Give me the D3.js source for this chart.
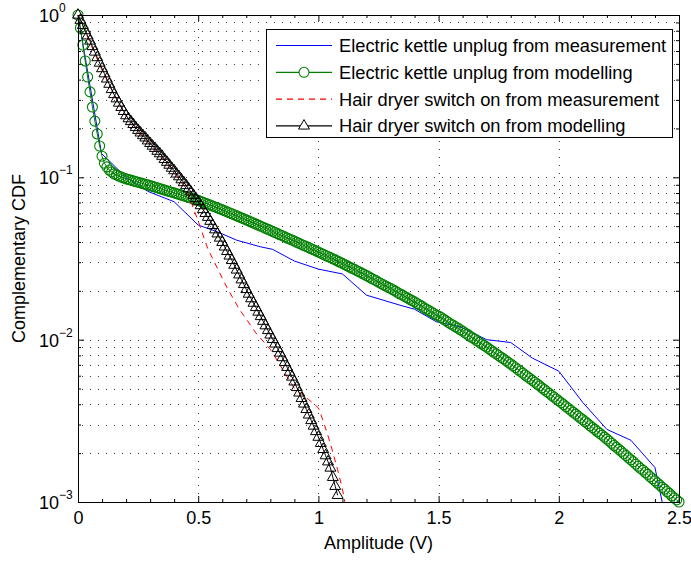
<!DOCTYPE html>
<html><head><meta charset="utf-8">
<script src="https://cdn.jsdelivr.net/npm/d3@7/dist/d3.min.js"></script>
<style>
body{margin:0;background:#fff}
text{font-family:"Liberation Sans",Arial,Helvetica,sans-serif;fill:#000}
</style>
</head><body>
<svg id="chart" width="691" height="561"></svg>
<script>
// ---------------- data ----------------
const kettleMeasX = [0, 0.098, 0.133, 0.2, 0.29, 0.40, 0.50, 0.58, 0.66, 0.76, 0.81, 0.90, 1.0, 1.10, 1.20, 1.34, 1.40, 1.49, 1.59, 1.70, 1.80, 1.89, 2.0, 2.10, 2.20, 2.30, 2.40, 2.43];
const kettleMeasY = [1, 0.14, 0.125, 0.1, 0.082, 0.0707, 0.0508, 0.0462, 0.041, 0.0373, 0.036, 0.0305, 0.0272, 0.0254, 0.0188, 0.0163, 0.0154, 0.0129, 0.012, 0.0100, 0.0096, 0.0077, 0.0064, 0.0041, 0.0028, 0.0024, 0.00163, 0.001];

const modelStep = 0.01; // amplitude spacing of the modelled curves
const kettleModelY = [
 1, 0.832, 0.653, 0.521, 0.415, 0.336, 0.271, 0.222, 0.185, 0.156, 0.135, 0.122, 0.116, 0.111, 0.108, 0.105, 0.1035, 0.1019, 0.1005, 0.0991, 0.0979,
 0.0970, 0.0961, 0.0951, 0.0942, 0.0933, 0.0924, 0.0915, 0.0907, 0.0898, 0.0889,
 0.0880, 0.0871, 0.0862, 0.0853, 0.0844, 0.0835, 0.0827, 0.0818, 0.0810, 0.0802,
 0.0793, 0.0785, 0.0777, 0.0768, 0.0760, 0.0752, 0.0744, 0.0737, 0.0729, 0.0721,
 0.0712, 0.0702, 0.0693, 0.0684, 0.0675, 0.0666, 0.0657, 0.0648, 0.0640, 0.0631,
 0.0622, 0.0613, 0.0605, 0.0596, 0.0588, 0.0579, 0.0571, 0.0563, 0.0555, 0.0547,
 0.0539, 0.0531, 0.0523, 0.0515, 0.0508, 0.0500, 0.0493, 0.0485, 0.0478, 0.0471,
 0.0464, 0.0457, 0.0450, 0.0443, 0.0437, 0.0430, 0.0423, 0.0417, 0.0411, 0.0405,
 0.0398, 0.0392, 0.0386, 0.0380, 0.0375, 0.0369, 0.0363, 0.0358, 0.0352, 0.0347,
 0.0341, 0.0336, 0.0330, 0.0325, 0.0320, 0.0315, 0.0310, 0.0305, 0.0300, 0.0295,
 0.0290, 0.0285, 0.0280, 0.0275, 0.0271, 0.0266, 0.0262, 0.0257, 0.0253, 0.0248,
 0.0244, 0.0239, 0.0235, 0.0231, 0.0226, 0.0222, 0.0218, 0.0214, 0.0210, 0.0207,
 0.0203, 0.0199, 0.0195, 0.0191, 0.0188, 0.0184, 0.0181, 0.0177, 0.0174, 0.0171,
 0.0167, 0.0164, 0.0161, 0.0157, 0.0154, 0.0151, 0.0148, 0.0145, 0.0142, 0.0140,
 0.0137, 0.0134, 0.0131, 0.0128, 0.0125, 0.0123, 0.0120, 0.0118, 0.0115, 0.0113,
 0.0110, 0.0108, 0.0105, 0.0103, 0.0101, 0.00984, 0.00962, 0.00941, 0.00920, 0.00899,
 0.00878, 0.00857, 0.00837, 0.00817, 0.00798, 0.00779, 0.00761, 0.00743, 0.00725, 0.00708,
 0.00690, 0.00672, 0.00655, 0.00639, 0.00622, 0.00606, 0.00591, 0.00576, 0.00561, 0.00547,
 0.00533, 0.00519, 0.00505, 0.00492, 0.00479, 0.00467, 0.00454, 0.00443, 0.00431, 0.00420,
 0.00409, 0.00398, 0.00387, 0.00377, 0.00367, 0.00357, 0.00348, 0.00338, 0.00329, 0.00321,
 0.00312, 0.00304, 0.00295, 0.00287, 0.00280, 0.00272, 0.00265, 0.00258, 0.00251, 0.00244,
 0.00237, 0.00230, 0.00223, 0.00217, 0.00211, 0.00205, 0.00199, 0.00193, 0.00187, 0.00182,
 0.00177, 0.00171, 0.00166, 0.00161, 0.00157, 0.00152, 0.00148, 0.00143, 0.00139, 0.00135,
 0.00131, 0.00127, 0.00123, 0.00120, 0.00116, 0.00113, 0.00109, 0.00106, 0.00103, 0.00100
];

const dryerMeasX = [0, 0.05, 0.10, 0.15, 0.20, 0.25, 0.30, 0.35, 0.40, 0.45, 0.50, 0.54, 0.58, 0.62, 0.67, 0.74, 0.80, 0.85, 0.90, 0.96, 1.00, 1.02, 1.05, 1.08, 1.10, 1.11];
const dryerMeasY = [1, 0.676, 0.457, 0.324, 0.240, 0.191, 0.158, 0.132, 0.107, 0.0851, 0.0537, 0.0363, 0.0275, 0.0209, 0.0155, 0.0110, 0.00871, 0.00661, 0.00501, 0.00427, 0.00380, 0.00316, 0.00229, 0.00158, 0.00120, 0.00100];

const dryerModelY = [
 1, 0.929, 0.863, 0.802, 0.745, 0.692, 0.640, 0.592, 0.547, 0.506, 0.468,
 0.435, 0.404, 0.375, 0.348, 0.324, 0.305, 0.287, 0.270, 0.255, 0.240,
 0.230, 0.221, 0.212, 0.203, 0.195, 0.188, 0.181, 0.175, 0.168, 0.162,
 0.156, 0.151, 0.145, 0.140, 0.135, 0.129, 0.124, 0.119, 0.114, 0.110,
 0.105, 0.101, 0.0968, 0.0929, 0.0891, 0.0851, 0.0813, 0.0776, 0.0741, 0.0708,
 0.0670, 0.0634, 0.0600, 0.0568, 0.0537, 0.0506, 0.0476, 0.0449, 0.0423, 0.0398,
 0.0373, 0.0350, 0.0328, 0.0308, 0.0288, 0.0269, 0.0251, 0.0234, 0.0219, 0.0204,
 0.0191, 0.0179, 0.0168, 0.0158, 0.0148, 0.0139, 0.0130, 0.0122, 0.0114, 0.0107,
 0.01005, 0.00942, 0.00883, 0.00828, 0.00776, 0.00724, 0.00676, 0.00631, 0.00589, 0.00550,
 0.00508, 0.00470, 0.00435, 0.00402, 0.00372, 0.00344, 0.00318, 0.00294, 0.00272, 0.00251,
 0.00230, 0.00211, 0.00193, 0.00177, 0.00162, 0.00142, 0.00125, 0.00110
];

const xTicks = [0, 0.5, 1, 1.5, 2, 2.5];
const xTickLabels = ["0", "0.5", "1", "1.5", "2", "2.5"];
const xMinorTicks = [0.1,0.2,0.3,0.4,0.6,0.7,0.8,0.9,1.1,1.2,1.3,1.4,1.6,1.7,1.8,1.9,2.1,2.2,2.3,2.4];
const yTicks = [1, 0.1, 0.01, 0.001];
const yTickExponents = ["0", "\u22121", "\u22122", "\u22123"];
const yMinorMultipliers = [2,3,4,5,6,7,8,9];
const yDecades = [0.001, 0.01, 0.1];
const xLabel = "Amplitude (V)";
const yLabel = "Complementary CDF";
const legendLabels = [
  "Electric kettle unplug from measurement",
  "Electric kettle unplug from modelling",
  "Hair dryer switch on from measurement",
  "Hair dryer switch on from modelling"
];

// ---------------- chart ----------------
const svg = d3.select("#chart");
const L = 78, R = 679, T = 15, B = 502;
const x = d3.scaleLinear().domain([0, 2.5]).range([L, R]);
const y = d3.scaleLog().domain([0.001, 1]).range([B, T]);

const yMinor = [];
yDecades.forEach(d => yMinorMultipliers.forEach(m => yMinor.push(+(d * m).toPrecision(3))));

// grid
const grid = svg.append("g").attr("stroke", "#000").attr("stroke-width", 1).attr("fill", "none");
yMinor.concat([0.1, 0.01]).forEach(v => {
  const yy = Math.round(y(v)) + 0.5;
  grid.append("line").attr("x1", L + 4).attr("x2", R).attr("y1", yy).attr("y2", yy)
    .attr("stroke-dasharray", "1,7").attr("stroke-opacity", 0.75);
});
xTicks.slice(1, -1).forEach(v => {
  const xx = Math.round(x(v)) + 0.5;
  grid.append("line").attr("x1", xx).attr("x2", xx).attr("y1", B).attr("y2", T)
    .attr("stroke-dasharray", "1,7").attr("stroke-opacity", 0.75);
});

// series
const line = d3.line().x(d => x(d[0])).y(d => y(d[1]));
const kettleMeas = kettleMeasX.map((v, i) => [v, kettleMeasY[i]]);
const kettleModel = kettleModelY.map((v, i) => [+(i * modelStep).toFixed(2), v]);
const dryerMeas = dryerMeasX.map((v, i) => [v, dryerMeasY[i]]);
const dryerModel = dryerModelY.map((v, i) => [+(i * modelStep).toFixed(2), v]);

const green = "#008000";
const blue = "#0000ff";
svg.append("path").datum(kettleMeas).attr("d", line).attr("fill", "none").attr("stroke", blue).attr("stroke-width", 1);

svg.append("path").datum(kettleModel).attr("d", line).attr("fill", "none").attr("stroke", green).attr("stroke-width", 1);
svg.append("g").selectAll("circle").data(kettleModel).join("circle")
  .attr("cx", d => x(d[0])).attr("cy", d => y(d[1])).attr("r", 5)
  .attr("fill", "none").attr("stroke", green).attr("stroke-width", 1.1);

svg.append("path").datum(dryerMeas).attr("d", line).attr("fill", "none").attr("stroke", "#ff0000")
  .attr("stroke-width", 1).attr("stroke-dasharray", "6,5");

const tri = d3.symbol(d3.symbolTriangle, 52);
svg.append("path").datum(dryerModel).attr("d", line).attr("fill", "none").attr("stroke", "#000").attr("stroke-width", 1);
svg.append("g").selectAll("path").data(dryerModel).join("path")
  .attr("d", tri).attr("transform", d => `translate(${x(d[0])},${y(d[1])})`)
  .attr("fill", "none").attr("stroke", "#000").attr("stroke-width", 1);

// axes (ticks inside, box)
function styleAxis(g) {
  g.select(".domain").attr("stroke", "#000").attr("stroke-width", 1);
  g.selectAll(".tick line").attr("stroke", "#000");
}
const axB = svg.append("g").attr("transform", `translate(0,${B})`)
  .call(d3.axisBottom(x).tickValues(xTicks).tickSize(-6).tickSizeOuter(0).tickPadding(9)
    .tickFormat((d, i) => xTickLabels[i]));
axB.selectAll("text").attr("font-size", 18).attr("font-family", "Liberation Sans, Arial, sans-serif");
styleAxis(axB);
svg.append("g").attr("transform", `translate(0,${B})`)
  .call(d3.axisBottom(x).tickValues(xMinorTicks).tickSize(-3).tickSizeOuter(0).tickFormat(""))
  .call(styleAxis);
const axT = svg.append("g").attr("transform", `translate(0,${T})`)
  .call(d3.axisTop(x).tickValues(xTicks).tickSize(-6).tickSizeOuter(0).tickFormat(""));
styleAxis(axT);
svg.append("g").attr("transform", `translate(0,${T})`)
  .call(d3.axisTop(x).tickValues(xMinorTicks).tickSize(-3).tickSizeOuter(0).tickFormat(""))
  .call(styleAxis);

const axL = svg.append("g").attr("transform", `translate(${L},0)`)
  .call(d3.axisLeft(y).tickValues(yTicks).tickSize(-6).tickSizeOuter(0).tickFormat(""));
styleAxis(axL);
svg.append("g").attr("transform", `translate(${L},0)`)
  .call(d3.axisLeft(y).tickValues(yMinor).tickSize(-3).tickSizeOuter(0).tickFormat(""))
  .call(styleAxis);
const axR = svg.append("g").attr("transform", `translate(${R},0)`)
  .call(d3.axisRight(y).tickValues(yTicks).tickSize(-6).tickSizeOuter(0).tickFormat(""));
styleAxis(axR);
svg.append("g").attr("transform", `translate(${R},0)`)
  .call(d3.axisRight(y).tickValues(yMinor).tickSize(-3).tickSizeOuter(0).tickFormat(""))
  .call(styleAxis);

// y tick labels with superscripts
yTicks.forEach((v, i) => {
  const t = svg.append("text").attr("x", 39).attr("y", y(v) + 7).attr("font-size", 18);
  t.append("tspan").text("10");
  t.append("tspan").attr("font-size", 12).attr("dy", -10).text(yTickExponents[i]);
});

// axis labels
svg.append("text").attr("x", (L + R) / 2).attr("y", 549).attr("text-anchor", "middle")
  .attr("font-size", 18).text(xLabel);
svg.append("text").attr("transform", `translate(25,${(T + B) / 2}) rotate(-90)`)
  .attr("text-anchor", "middle").attr("font-size", 18).text(yLabel);

// legend
const lg = svg.append("g");
lg.append("rect").attr("x", 266.5).attr("y", 29.5).attr("width", 406).attr("height", 108)
  .attr("fill", "#fff").attr("stroke", "#000").attr("stroke-width", 1);
const legendStyles = [
  {stroke: blue, dash: null, marker: null},
  {stroke: green, dash: null, marker: "circle"},
  {stroke: "#ff0000", dash: "6,5", marker: null},
  {stroke: "#000", dash: null, marker: "triangle"}
];
legendLabels.forEach((lab, i) => {
  const yy = 45.5 + i * 26.8;
  const s = legendStyles[i];
  lg.append("line").attr("x1", 276).attr("x2", 332).attr("y1", yy).attr("y2", yy)
    .attr("stroke", s.stroke).attr("stroke-width", 1.2).attr("stroke-dasharray", s.dash);
  if (s.marker === "circle") {
    lg.append("circle").attr("cx", 304).attr("cy", yy).attr("r", 5).attr("fill", "#fff").attr("stroke", green).attr("stroke-width", 1.1);
  } else if (s.marker === "triangle") {
    lg.append("path").attr("d", tri).attr("transform", `translate(304,${yy})`).attr("fill", "#fff").attr("stroke", "#000");
  }
  lg.append("text").attr("x", 339).attr("y", yy + 6.5).attr("font-size", 18.3).text(lab);
});
</script>
</body></html>
